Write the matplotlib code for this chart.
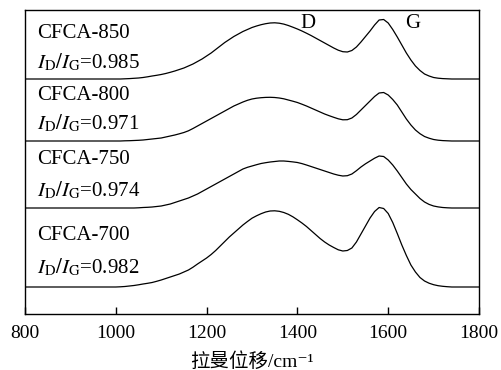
import numpy as np
import matplotlib.pyplot as plt

# Raman shift grid (cm^-1), shared by all spectra
WAVENUMBER = list(range(800, 1801, 10))

# Intensities above each baseline (arb. units), 1000..1740 cm^-1 in steps of 10;
# flat (zero) outside that range
CFCA_850_BAND = [
    0, 0, 0.2, 0.4, 0.7, 1, 1.5, 2.2, 3, 3.7,
    4.5, 5.5, 6.7, 8, 9.5, 11, 13, 15, 17.5, 20,
    23, 26, 29.5, 33, 36.5, 39.5, 42.5, 45, 47.5, 49.5,
    51.5, 53, 54.3, 55.3, 56, 56.2, 55.8, 54.9, 53.5, 51.8,
    50, 48, 45.8, 43.5, 41, 38.5, 36, 33.5, 31, 28.8,
    27.3, 27, 28.5, 32, 37, 42.5, 48, 54, 59, 59.5,
    56, 49.5, 42, 34, 26, 19, 13, 8.5, 5, 3,
    1.5, 0.8, 0.4, 0.2, 0,
]
CFCA_800_BAND = [
    0, 0, 0.2, 0.3, 0.5, 0.7, 1, 1.5, 2, 2.5,
    3, 4, 5, 6, 7.2, 8.5, 10.2, 12.5, 15, 17.5,
    20, 22.5, 25, 27.5, 30, 32.5, 35, 37, 39, 40.7,
    42, 42.8, 43.3, 43.6, 43.7, 43.5, 43, 42.2, 41, 39.8,
    38.5, 36.8, 35, 33, 31, 29, 27, 25.3, 23.7, 22.2,
    21.2, 21.3, 23, 26.5, 31, 35.5, 40, 44.5, 48, 48.5,
    46, 41.5, 36, 29, 22, 16, 11, 7.3, 4.5, 2.8,
    1.5, 0.8, 0.4, 0.2, 0,
]
CFCA_750_BAND = [
    0, 0, 0, 0, 0, 0.2, 0.5, 0.7, 1, 1.5,
    2, 3, 4, 5.5, 7, 8.5, 10, 12, 14, 16.5,
    19, 21.5, 24, 26.5, 29, 31.5, 34, 36.5, 39, 40.7,
    42, 43.3, 44.5, 45.3, 46, 46.5, 47, 47, 46.6, 46.1,
    45.5, 44.4, 43, 41.5, 40, 38.5, 37, 35.5, 34, 32.8,
    32, 32.3, 34, 37.3, 41, 44.2, 47, 49.8, 52, 51.5,
    48, 43, 37, 30.5, 24, 18.5, 14, 9.5, 6, 3.6,
    2, 1.1, 0.5, 0.2, 0,
]
CFCA_700_BAND = [
    0, 0.2, 0.5, 1, 1.5, 2.2, 3, 3.7, 4.5, 5.7,
    7, 8.5, 10, 11.5, 13, 15, 17, 19.8, 23, 26,
    29, 32.5, 36.5, 41, 45.5, 50, 54, 58, 62, 65.5,
    68.8, 71.2, 73.3, 75, 76, 76.2, 75.7, 74.5, 72.7, 70.2,
    67.2, 64, 60.5, 56.5, 52.5, 48.5, 45, 42, 39.5, 37.2,
    36, 36.5, 39, 45, 53, 61, 69, 75.5, 79.5, 78.5,
    73.5, 64.5, 53.5, 42, 31.5, 22, 15, 9.5, 6, 3.8,
    2.3, 1.3, 0.7, 0.3, 0,
]

SAMPLES = ["CFCA-850", "CFCA-800", "CFCA-750", "CFCA-700"]
RATIOS = ["0.985", "0.971", "0.974", "0.982"]
BANDS = [CFCA_850_BAND, CFCA_800_BAND, CFCA_750_BAND, CFCA_700_BAND]
# vertical stacking offsets
OFFSETS = [235, 173, 106, 27]
# label heights (name line, ratio line)
LABEL_Y = [(281, 252), (218, 191), (154, 124), (79, 47)]

plt.rcParams["font.family"] = ["Liberation Serif", "Noto Sans CJK SC", "DejaVu Sans"]
plt.rcParams["mathtext.fontset"] = "stix"


def full_spectrum(band):
    # pad the band region with the flat baseline on both sides
    spec = [0] * 20 + band + [0] * 6
    assert len(spec) == len(WAVENUMBER)
    return np.array(spec)


def main() -> None:
    fig = plt.figure(figsize=(5.02, 3.70), dpi=100)
    ax = fig.add_axes([25 / 502, 56 / 370, 454 / 502, 304 / 370])

    x = np.array(WAVENUMBER)
    for band, off, name, ratio, (y1, y2) in zip(BANDS, OFFSETS, SAMPLES, RATIOS, LABEL_Y):
        ax.plot(x, full_spectrum(band) + off, color="black", lw=0.9)
        ax.text(826, y1, name, fontsize=15, ha="left", va="center")
        ax.text(826, y2, r"$I_{\mathrm{D}}/I_{\mathrm{G}}$=" + ratio,
                fontsize=15, ha="left", va="center")

    ax.text(1424, 291, "D", fontsize=15, ha="center", va="center")
    ax.text(1653, 291, "G", fontsize=15, ha="center", va="center")

    ax.set_xlim(800, 1800)
    ax.set_ylim(0, 304)
    ax.set_xticks(range(800, 1801, 200))
    ax.set_yticks([])
    ax.tick_params(axis="x", direction="in", length=5, width=1, labelsize=14, pad=8)
    for s in ax.spines.values():
        s.set_linewidth(1)
    ax.set_xlabel("拉曼位移/cm⁻¹", fontsize=14, labelpad=7)

    fig.savefig("out.png", dpi=100)


if __name__ == "__main__":
    main()
